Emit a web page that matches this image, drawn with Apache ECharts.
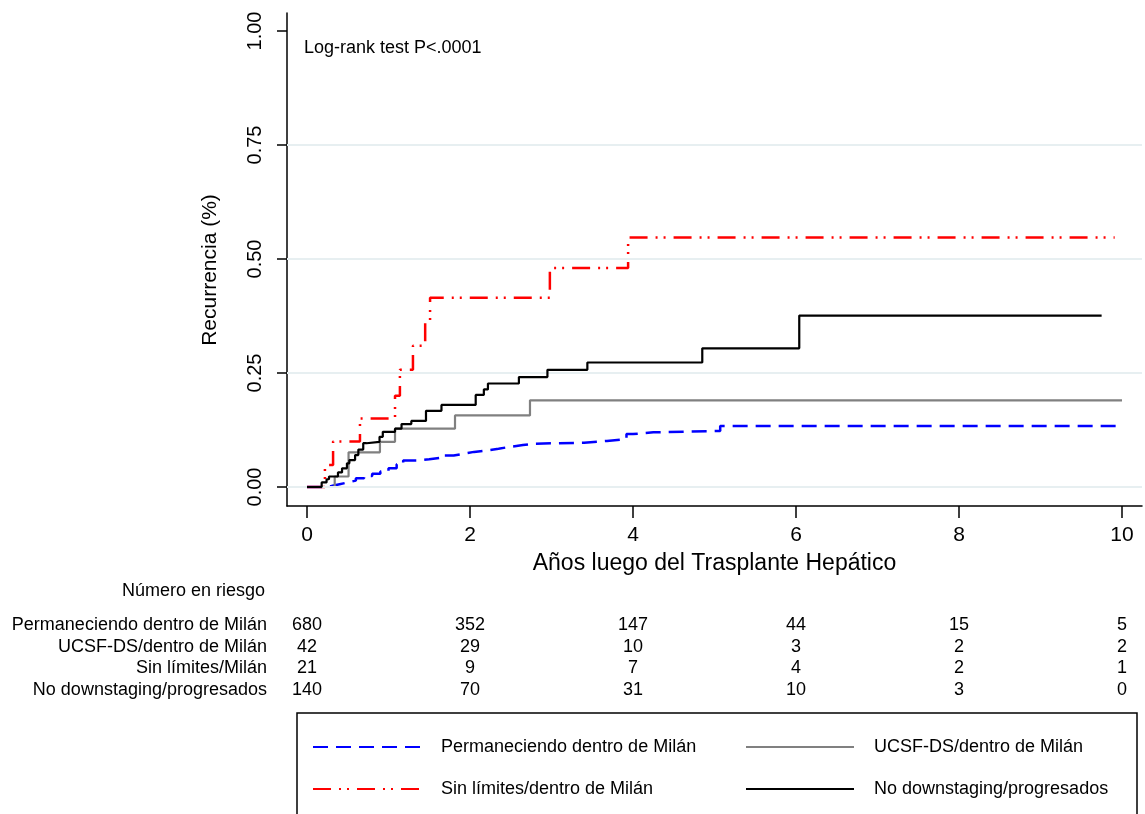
<!DOCTYPE html>
<html>
<head>
<meta charset="utf-8">
<script src="https://cdn.jsdelivr.net/npm/echarts@6/dist/echarts.min.js"></script>
<style>
html,body{margin:0;padding:0;background:#fff;}
#c{width:1145px;height:814px;}
</style>
</head>
<body>
<div id="c"></div>
<script>
// ---------- data ----------
const xTicks = [0, 2, 4, 6, 8, 10];
const yTicks = [0, 0.25, 0.5, 0.75, 1];
const gridValues = [0, 0.25, 0.5, 0.75];

const seriesNames = [
  'Permaneciendo dentro de Milán',
  'UCSF-DS/dentro de Milán',
  'Sin límites/dentro de Milán',
  'No downstaging/progresados'
];
const riskLabels = [
  'Permaneciendo dentro de Milán',
  'UCSF-DS/dentro de Milán',
  'Sin límites/Milán',
  'No downstaging/progresados'
];

// Permaneciendo dentro de Milán (blue, dashed)
const blueT = [0, 0.2, 0.3, 0.4, 0.5, 0.6, 0.7, 0.8, 0.9, 1.0, 1.1, 1.18, 1.35, 1.5, 1.63, 1.8, 1.92, 2.05, 2.2, 2.35, 2.49, 2.65, 2.78, 3.4, 3.68, 3.92, 4.0, 4.25, 5.07, 10.0];
const blueY = [0, 0.002, 0.006, 0.010, 0.014, 0.019, 0.024, 0.029, 0.034, 0.041, 0.050, 0.058, 0.061, 0.064, 0.069, 0.073, 0.077, 0.080, 0.084, 0.088, 0.092, 0.095, 0.097, 0.101, 0.105, 0.116, 0.120, 0.123, 0.134, 0.134];

// UCSF-DS/dentro de Milán (gray)
const grayT = [0, 0.34, 0.51, 0.895, 1.08, 1.816, 2.736, 10.0];
const grayY = [0, 0.023, 0.076, 0.099, 0.128, 0.157, 0.19, 0.19];

// Sin límites/dentro de Milán (red, dash-dot-dot)
const redT = [0, 0.22, 0.32, 0.65, 1.08, 1.14, 1.30, 1.45, 1.51, 2.98, 3.94, 9.91];
const redY = [0, 0.048, 0.10, 0.15, 0.20, 0.257, 0.31, 0.36, 0.415, 0.48, 0.547, 0.547];

// No downstaging/progresados (black)
const blackT = [0, 0.18, 0.24, 0.27, 0.38, 0.43, 0.49, 0.52, 0.59, 0.63, 0.69, 0.73, 0.89, 0.93, 1.08, 1.16, 1.28, 1.46, 1.65, 2.07, 2.17, 2.22, 2.60, 2.95, 3.44, 4.85, 6.04, 9.75];
const blackY = [0, 0.010, 0.017, 0.023, 0.032, 0.041, 0.052, 0.059, 0.070, 0.082, 0.096, 0.099, 0.110, 0.121, 0.128, 0.138, 0.145, 0.167, 0.180, 0.202, 0.214, 0.227, 0.241, 0.257, 0.273, 0.304, 0.376, 0.376];

// Number at risk
const riskTimes = [0, 2, 4, 6, 8, 10];
const riskBlue = [680, 352, 147, 44, 15, 5];
const riskGray = [42, 29, 10, 3, 2, 2];
const riskRed = [21, 9, 7, 4, 2, 1];
const riskBlack = [140, 70, 31, 10, 3, 0];

const xTitle = 'Años luego del Trasplante Hepático';
const yTitle = 'Recurrencia (%)';
const noteText = 'Log-rank test P<.0001';
const riskTitle = 'Número en riesgo';

// ---------- chart ----------
const FONT = '"Liberation Sans", Arial, Helvetica, sans-serif';
const pairs = (t, y) => t.map((v, i) => [v, y[i]]);
const chart = echarts.init(document.getElementById('c'));

const colors = ['#0000ff', '#808080', '#ff0000', '#000000'];
const styles = [
  { color: colors[0], width: 2.5, type: [15, 8] },
  { color: colors[1], width: 2.2, type: 'solid' },
  { color: colors[2], width: 2.5, type: [18, 8, 2, 6, 2, 8] },
  { color: colors[3], width: 2.2, type: 'solid' }
];
const dataSets = [pairs(blueT, blueY), pairs(grayT, grayY), pairs(redT, redY), pairs(blackT, blackY)];

function legendFor(i, left, top) {
  return {
    show: true,
    data: [seriesNames[i]],
    left: left, top: top,
    padding: 0,
    itemWidth: 108, itemHeight: 14,
    selectedMode: false,
    itemStyle: { opacity: 0, borderWidth: 0 },
    textStyle: { fontSize: 18, color: '#000', fontFamily: FONT, padding: [0, 0, 0, 15] }
  };
}

const series = [{
  type: 'line', name: '_grid', data: [[0, 0]], symbol: 'none',
  lineStyle: { opacity: 0 }, silent: true, z: 1,
  markLine: {
    silent: true, symbol: 'none', animation: false,
    label: { show: false },
    lineStyle: { color: '#e7eff1', width: 2, type: 'solid' },
    data: gridValues.map(v => ({ yAxis: v }))
  }
}];
[0, 1, 3, 2].forEach(i => {
  series.push({
    type: 'line', name: seriesNames[i], step: 'end', data: dataSets[i],
    symbol: 'none', showSymbol: false, z: 2 + i,
    lineStyle: styles[i], itemStyle: { color: colors[i] }
  });
});

chart.setOption({
  animation: false,
  backgroundColor: '#ffffff',
  grid: { left: 287, top: 13, width: 855, height: 493 },
  xAxis: {
    type: 'value', min: -0.2454, max: 10.2454,
    axisLine: { onZero: false, lineStyle: { color: '#000', width: 1.5 } },
    axisTick: { customValues: xTicks, length: 12, lineStyle: { color: '#000', width: 1.5 } },
    axisLabel: { customValues: xTicks, fontSize: 21, color: '#000', margin: 19, fontFamily: FONT },
    splitLine: { show: false },
    name: xTitle, nameLocation: 'middle', nameGap: 46,
    nameTextStyle: { fontSize: 23, color: '#000', fontFamily: FONT }
  },
  yAxis: {
    type: 'value', min: -0.04167, max: 1.03947,
    axisLine: { onZero: false, lineStyle: { color: '#000', width: 1.5 } },
    axisTick: { customValues: yTicks, length: 10, lineStyle: { color: '#000', width: 1.5 } },
    axisLabel: { customValues: yTicks, fontSize: 20, color: '#000', margin: 22, rotate: 90,
      fontFamily: FONT, formatter: v => v.toFixed(2) },
    splitLine: { show: false },
    name: yTitle, nameLocation: 'middle', nameGap: 66, nameRotate: 90,
    nameTextStyle: { fontSize: 21, color: '#000', fontFamily: FONT, padding: [0, 21, 0, 0] }
  },
  legend: [
    legendFor(0, 312, 738),
    legendFor(1, 745, 738),
    legendFor(2, 312, 780),
    legendFor(3, 745, 780)
  ],
  series: series
});

// ---------- risk table, note, legend box (positions via the x scale) ----------
const xPix = t => chart.convertToPixel({ xAxisIndex: 0 }, t);
const riskRows = [riskBlue, riskGray, riskRed, riskBlack];
const graphics = [];
graphics.push({ type: 'text', x: 304, y: 48, style: { text: noteText, fontSize: 18, fill: '#000', fontFamily: FONT, verticalAlign: 'middle' } });
graphics.push({ type: 'text', x: 265, y: 591, style: { text: riskTitle, fontSize: 18, fill: '#000', fontFamily: FONT, align: 'right', verticalAlign: 'middle' } });
riskRows.forEach((row, r) => {
  const y = 625 + r * 21.6;
  graphics.push({ type: 'text', x: 267, y: y, style: { text: riskLabels[r], fontSize: 18, fill: '#000', fontFamily: FONT, align: 'right', verticalAlign: 'middle' } });
  row.forEach((n, k) => {
    graphics.push({ type: 'text', x: xPix(riskTimes[k]), y: y, style: { text: String(n), fontSize: 18, fill: '#000', fontFamily: FONT, align: 'center', verticalAlign: 'middle' } });
  });
});
graphics.push({ type: 'rect', shape: { x: 297, y: 713, width: 840, height: 130 }, style: { fill: 'none', stroke: '#000', lineWidth: 1.5 }, z: -1 });
chart.setOption({ graphic: graphics });
</script>
</body>
</html>
